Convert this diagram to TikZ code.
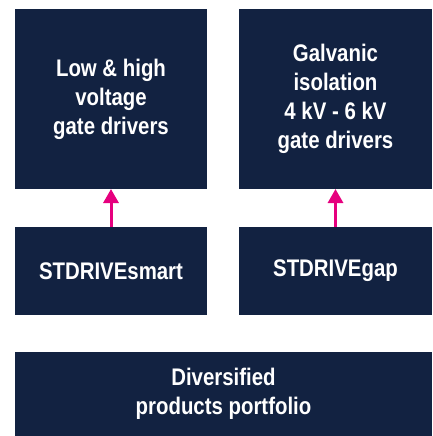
\documentclass[tikz,border=0pt]{standalone}
\usepackage{fontspec}
\setmainfont[FakeStretch=0.85]{Liberation Sans}
\usepackage{xcolor}
\usepackage{tikz}
\usetikzlibrary{arrows.meta,positioning}

\definecolor{stnavy}{RGB}{18,34,65}
\definecolor{stpink}{RGB}{230,0,126}

\begin{document}
\begin{tikzpicture}[
    x=1pt, y=-1pt,
    >={Triangle[length=14pt, width=15pt]},
    block/.style={fill=stnavy, text=white, inner sep=0pt, outer sep=0pt,
        align=center, font=\fontsize{24}{29}\selectfont\bfseries},
    link/.style={->, draw=stpink, fill=stpink, line width=3pt}
]
    \useasboundingbox (0,0) rectangle (433,436);

    \node[block, minimum width=192pt, minimum height=180pt] (LV) at (111,99)
        {Low \& high\\voltage\\gate drivers};
    \node[block, minimum width=193pt, minimum height=180pt] (GI) at (335.5,99)
        {Galvanic\\isolation\\4 kV - 6 kV\\gate drivers};
    \node[block, minimum width=192pt, minimum height=88pt] (SMART) at (111,271)
        {STDRIVEsmart};
    \node[block, minimum width=193pt, minimum height=88pt] (GAP) at (335.5,271)
        {STDRIVEgap};
    \node[block, minimum width=417pt, minimum height=84pt] (PORT) at (223.5,394)
        {Diversified\\products portfolio};

    \draw[link] (SMART.north) -- (LV.south);
    \draw[link] (GAP.north) -- (GI.south);
\end{tikzpicture}
\end{document}
